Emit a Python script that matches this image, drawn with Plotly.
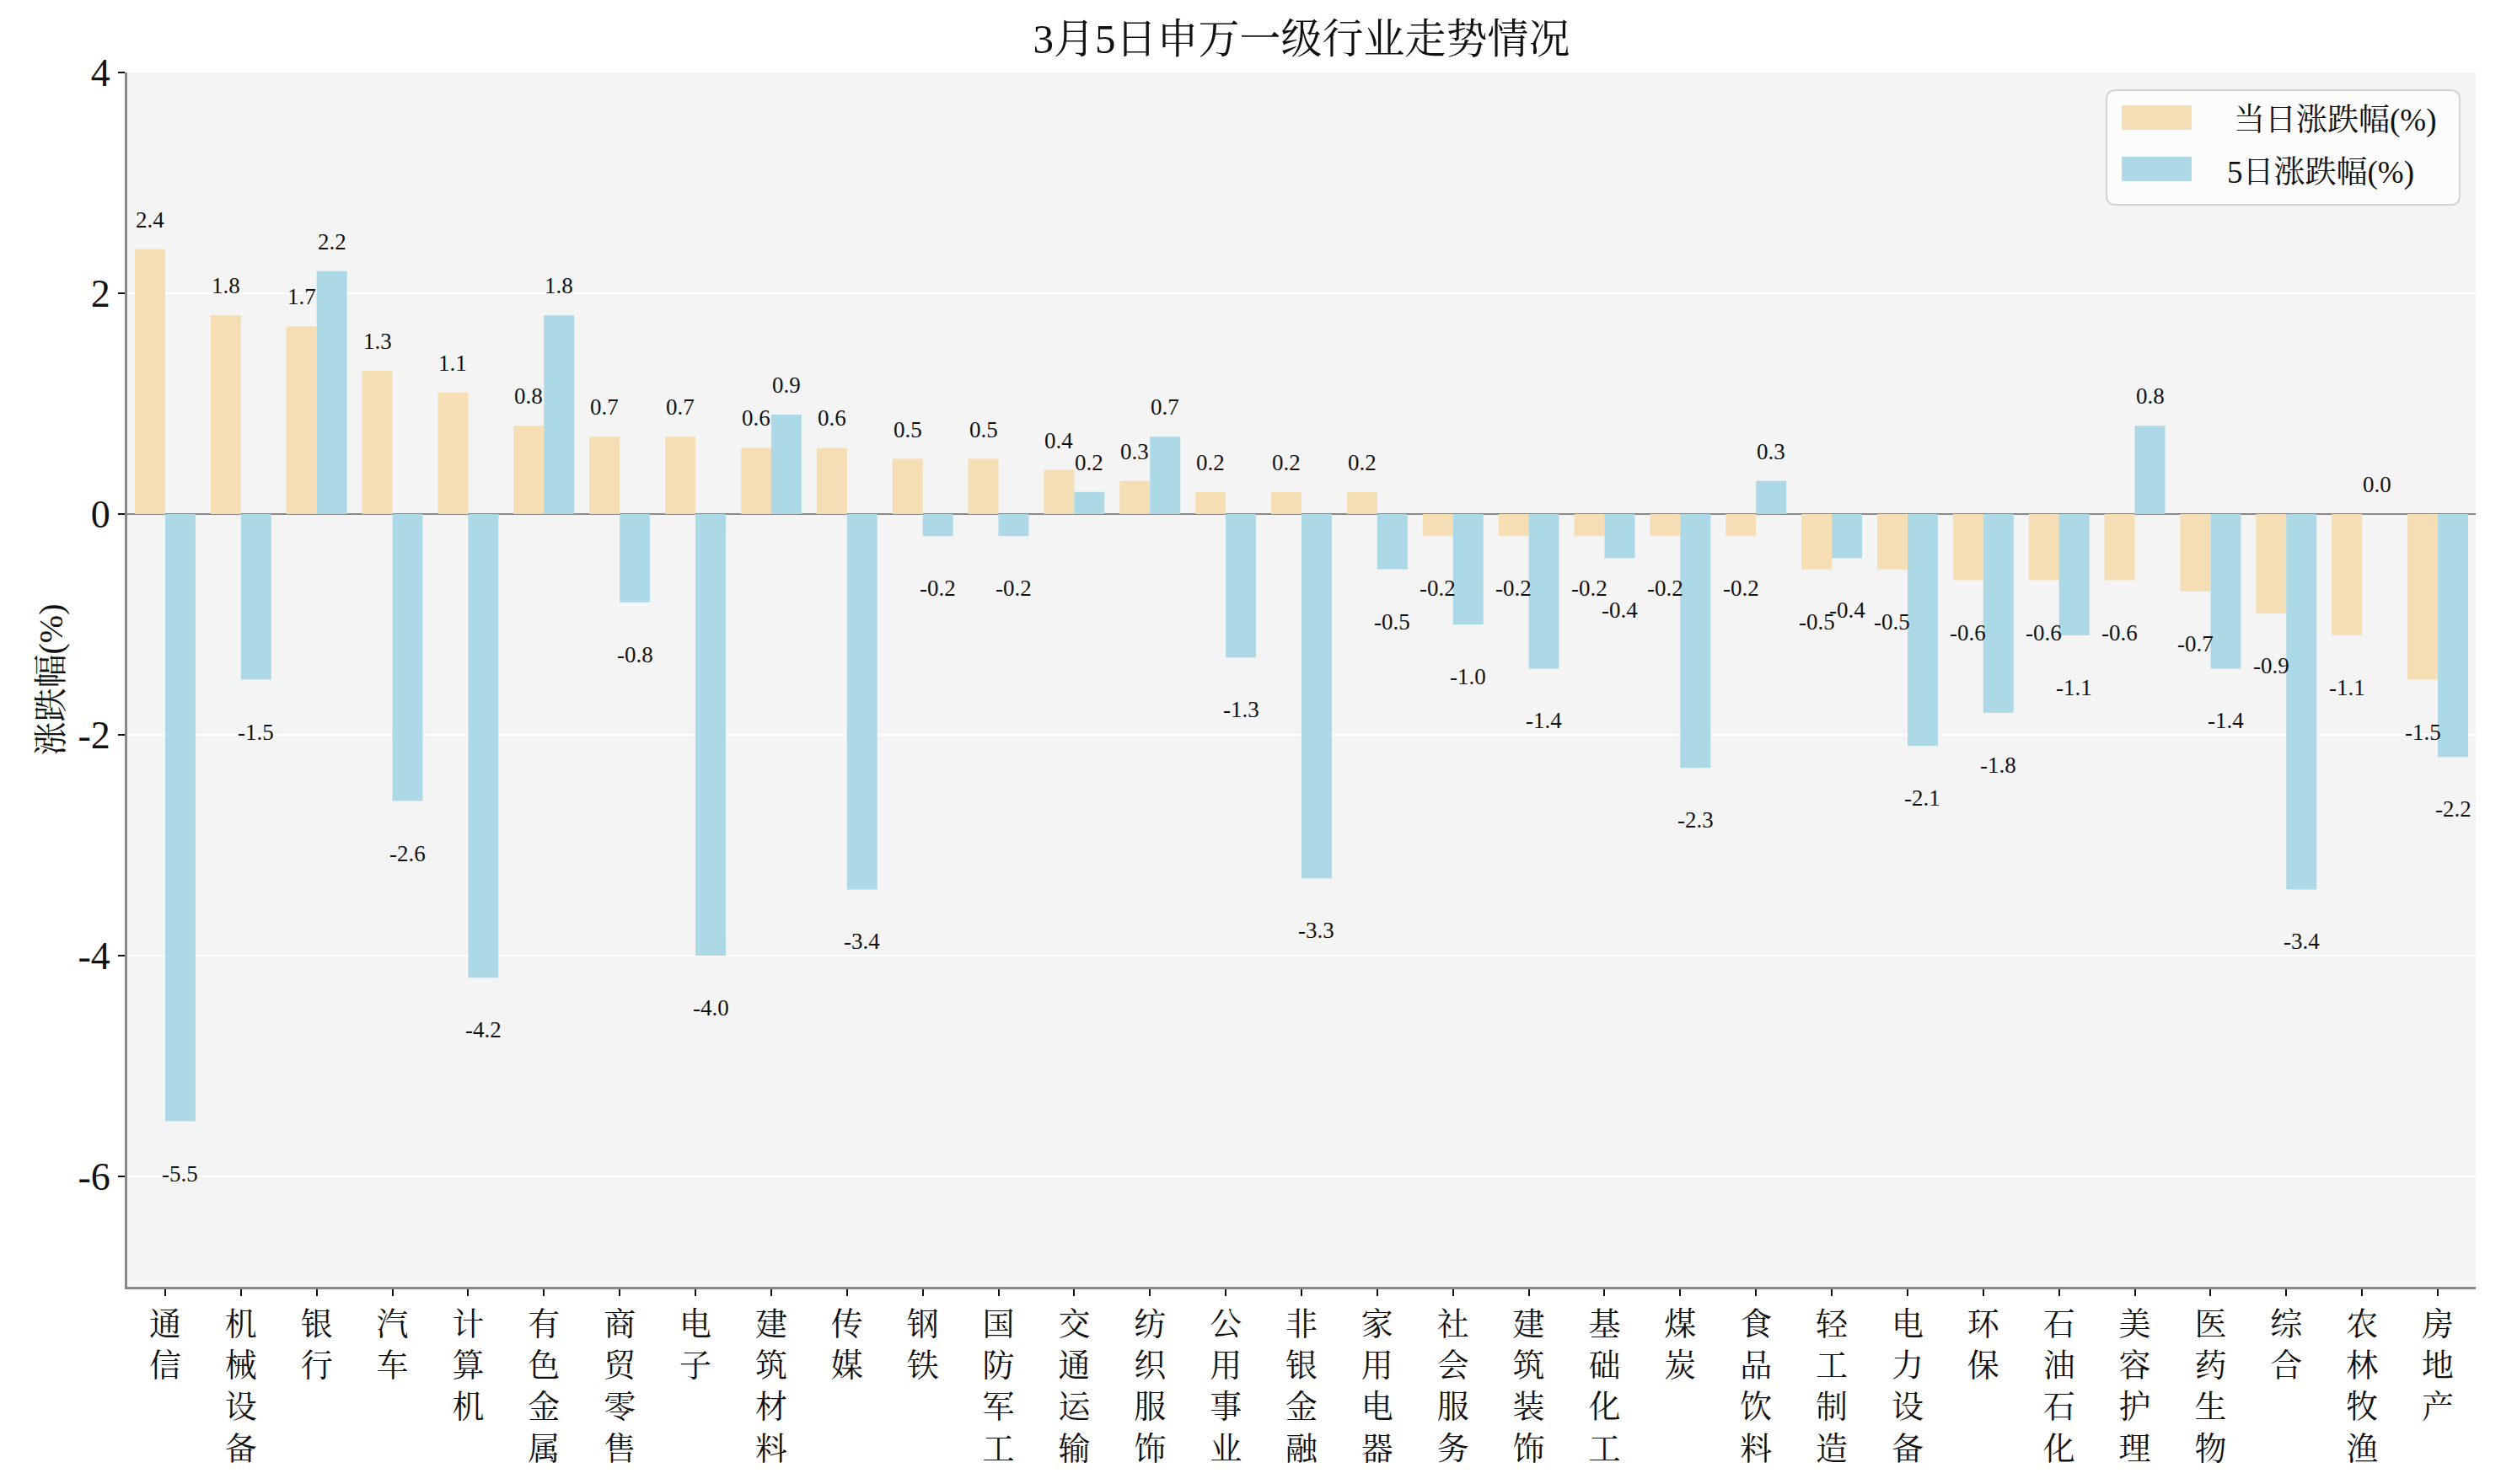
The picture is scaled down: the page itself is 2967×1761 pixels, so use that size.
import plotly.graph_objects as go

categories = ["通信", "机械设备", "银行", "汽车", "计算机", "有色金属", "商贸零售", "电子", "建筑材料", "传媒",
              "钢铁", "国防军工", "交通运输", "纺织服饰", "公用事业", "非银金融", "家用电器", "社会服务", "建筑装饰", "基础化工",
              "煤炭", "食品饮料", "轻工制造", "电力设备", "环保", "石油石化", "美容护理", "医药生物", "综合", "农林牧渔", "房地产"]
daily = [2.4, 1.8, 1.7, 1.3, 1.1, 0.8, 0.7, 0.7, 0.6, 0.6,
         0.5, 0.5, 0.4, 0.3, 0.2, 0.2, 0.2, -0.2, -0.2, -0.2,
         -0.2, -0.2, -0.5, -0.5, -0.6, -0.6, -0.6, -0.7, -0.9, -1.1, -1.5]
five_day = [-5.5, -1.5, 2.2, -2.6, -4.2, 1.8, -0.8, -4.0, 0.9, -3.4,
            -0.2, -0.2, 0.2, 0.7, -1.3, -3.3, -0.5, -1.0, -1.4, -0.4,
            -2.3, 0.3, -0.4, -2.1, -1.8, -1.1, 0.8, -1.4, -3.4, 0.0, -2.2]
series_names = ["当日涨跌幅(%)", "5日涨跌幅(%)"]
colors = ["#F5DEB3", "#ADD8E6"]
title_text = "3月5日申万一级行业走势情况"
y_title = "涨跌幅(%)"
y_ticks = [-6, -4, -2, 0, 2, 4]

FONT = "Liberation Serif, Noto Serif CJK SC, Noto Sans CJK SC, serif"

# figure size compensates for the 8px default body margin of the page
W, H = 2959, 1753
ML, MR, MT, MB = 143, 30, 78, 234

idx = list(range(len(categories)))
tick_text = ["<br>".join(list(c)) for c in categories]

fig = go.Figure()
for name, vals, col in zip(series_names, [daily, five_day], colors):
    fig.add_trace(go.Bar(x=idx, y=vals, name=name, marker=dict(color=col, line=dict(width=0)),
                         showlegend=False))

annotations = []
bar_w = 0.4
for s, vals in enumerate([daily, five_day]):
    off = -bar_w / 2 if s == 0 else bar_w / 2
    for i, v in zip(idx, vals):
        annotations.append(dict(x=i + off, y=v, xref="x", yref="y", text=f"{v:.1f}",
                                showarrow=False, yanchor="middle", xanchor="center",
                                yshift=35 if v >= 0 else -62,
                                font=dict(family=FONT, size=27, color="#111111")))

# manual legend (wide swatches, rounded frame)
lx0, lx1, ly0, ly1 = 0.8428, 0.9932, 0.891, 0.9854
r = 0.004
ry = r * (W - ML - MR) / (H - MT - MB)
path = (f"M {lx0 + r},{ly0} L {lx1 - r},{ly0} Q {lx1},{ly0} {lx1},{ly0 + ry} "
        f"L {lx1},{ly1 - ry} Q {lx1},{ly1} {lx1 - r},{ly1} L {lx0 + r},{ly1} "
        f"Q {lx0},{ly1} {lx0},{ly1 - ry} L {lx0},{ly0 + ry} Q {lx0},{ly0} {lx0 + r},{ly0} Z")
shapes = [dict(type="path", xref="paper", yref="paper", path=path,
               fillcolor="rgba(252,252,252,0.95)", line=dict(color="#d4d4d4", width=2))]
leg_rows = [(0.9528, 0.9729, 0.9604, 0.8962), (0.9105, 0.9306, 0.9174, 0.8935)]
for (y0, y1, yt, xt), name, col in zip(leg_rows, series_names, colors):
    shapes.append(dict(type="rect", xref="paper", yref="paper", x0=0.8493, x1=0.8790, y0=y0, y1=y1,
                       fillcolor=col, line=dict(width=0)))
    annotations.append(dict(x=xt, y=yt, xref="paper", yref="paper", text=name, showarrow=False,
                            xanchor="left", yanchor="middle",
                            font=dict(family=FONT, size=37, color="#111111")))

fig.update_layout(
    width=W, height=H,
    margin=dict(l=ML, r=MR, t=MT, b=MB),
    paper_bgcolor="white", plot_bgcolor="#f4f4f4",
    barmode="group", bargap=0.2, bargroupgap=0,
    title=dict(text=title_text, x=(ML + (W - MR)) / 2 / W, xanchor="center", y=1 - 38 / H, yanchor="middle",
               font=dict(family=FONT, size=49, color="#111111")),
    font=dict(family=FONT, color="#111111"),
    annotations=annotations, shapes=shapes,
    showlegend=False,
)
fig.update_xaxes(range=[-0.5, len(categories) - 0.5], tickmode="array", tickvals=idx, ticktext=tick_text,
                 showgrid=False, zeroline=False, showline=True, linecolor="#888888", linewidth=3,
                 ticks="outside", ticklen=8, tickwidth=2, tickcolor="#111111",
                 tickfont=dict(family=FONT, size=38, color="#111111"), tickangle=0)
fig.update_yaxes(range=[-7, 4], tickmode="array", tickvals=y_ticks, ticktext=[str(t) for t in y_ticks],
                 showgrid=True, gridcolor="white", gridwidth=2,
                 zeroline=True, zerolinecolor="#888888", zerolinewidth=2,
                 showline=True, linecolor="#888888", linewidth=3,
                 ticks="outside", ticklen=8, tickwidth=2, tickcolor="#111111",
                 tickfont=dict(family=FONT, size=46, color="#111111"),
                 title=dict(text=y_title, font=dict(family=FONT, size=40, color="#111111"), standoff=6))

fig.write_html("out.html")
